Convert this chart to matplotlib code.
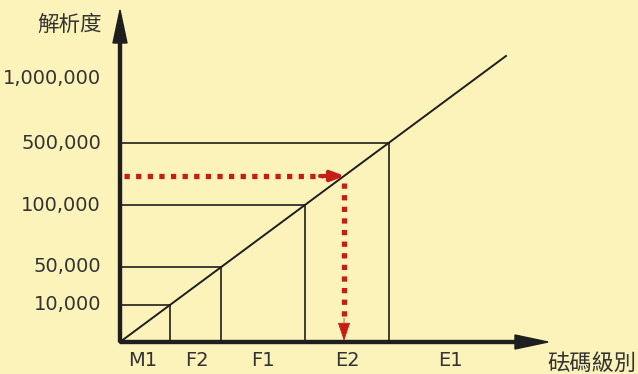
import matplotlib
matplotlib.use("Agg")
import matplotlib.pyplot as plt

# schematic: weight class vs. required balance resolution
grades = ['M1', 'F2', 'F1', 'E2', 'E1']
grade_pos = [23, 77, 143, 227, 330]          # label centres along the x axis
res_labels = ['10,000', '50,000', '100,000', '500,000', '1,000,000']
res_level = [37, 75, 137, 199, 264]           # tick heights on the y axis
boxed = [True, True, True, True, False]       # which levels get a guide box
slope = 0.741                                 # diagonal line y = slope * x
diag_end = 386
pick_level = 166                              # red example reading

bg = '#FBF3BA'
ink = '#1E1E1E'
txt = '#333333'
red = '#C41E16'

fig = plt.figure(figsize=(6.38, 3.74), dpi=100, facecolor=bg)
ax = fig.add_axes([0, 0, 1, 1])
ax.set_facecolor(bg)
ax.set_xlim(-120, 518)
ax.set_ylim(-32, 342)
ax.axis('off')

# axes with arrow heads
ax.arrow(0, 0, 0, 332, width=3, head_width=14, head_length=33,
         length_includes_head=True, color=ink, zorder=5)
ax.arrow(0, 0, 428, 0, width=3, head_width=14, head_length=33,
         length_includes_head=True, color=ink, zorder=5)

# diagonal
ax.plot([0, diag_end], [0, slope * diag_end], color=ink, lw=1.4)

# guide boxes for each resolution level
for lvl, b in zip(res_level, boxed):
    if not b:
        continue
    cx = lvl / slope
    ax.plot([0, cx], [lvl, lvl], color=ink, lw=1.2)
    ax.plot([cx, cx], [0, lvl], color=ink, lw=1.2)

# tick labels
for lab, lvl in zip(res_labels, res_level):
    ax.text(-19, lvl, lab, ha='right', va='center', fontsize=14,
            color=txt, family='DejaVu Sans')
for g, x in zip(grades, grade_pos):
    ax.text(x, -19, g, ha='center', va='center', fontsize=14,
            color=txt, family='DejaVu Sans')

ax.text(-18, 317, '解析度', ha='right', va='center', fontsize=15.5,
        color=txt, family=['Noto Sans CJK TC', 'DejaVu Sans'])
ax.text(427, -21, '砝碼級別', ha='left', va='center', fontsize=16,
        color=txt, family=['Noto Sans CJK TC', 'DejaVu Sans'])

# red dotted reading arrows
px = pick_level / slope
ax.plot([4, px - 22], [pick_level, pick_level], color=red, lw=3.8,
        ls=(0, (1, 1.2)), dash_capstyle='butt', zorder=6)
ax.annotate('', xy=(px + 1, pick_level), xytext=(px - 24, pick_level),
            arrowprops=dict(arrowstyle='-|>,head_length=0.8,head_width=0.3',
                            color=red, lw=3.0, shrinkA=0, shrinkB=0), zorder=6)
ax.plot([px, px], [pick_level - 7, 24], color=red, lw=3.8,
        ls=(0, (1, 1.2)), dash_capstyle='butt', zorder=6)
ax.annotate('', xy=(px, 1), xytext=(px, 24),
            arrowprops=dict(arrowstyle='-|>,head_length=1.2,head_width=0.4',
                            color=red, lw=0.5, shrinkA=0, shrinkB=0), zorder=6)

fig.savefig('out.png', dpi=100, facecolor=bg)
